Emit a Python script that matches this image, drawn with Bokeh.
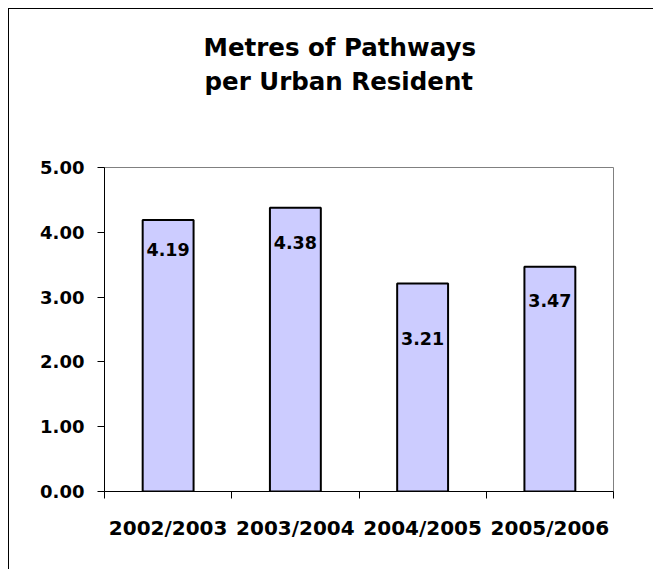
from bokeh.plotting import figure
from bokeh.models import Title, FixedTicker, Range1d, ColumnDataSource, NumeralTickFormatter
from bokeh.core.properties import value
from bokeh.embed import file_html
from bokeh.resources import INLINE

# ---- data ----
categories = ["2002/2003", "2003/2004", "2004/2005", "2005/2006"]
values = [4.19, 4.38, 3.21, 3.47]
value_labels = ["4.19", "4.38", "3.21", "3.47"]
y_ticks = [0, 1, 2, 3, 4, 5]
title_lines = ["Metres of Pathways", "per Urban Resident"]

# label placement below the bar tops (pixels), as in the reference
label_drop_px = [30, 35, 55, 34]

FONT = "DejaVu Sans"

xs = [i + 0.5 for i in range(len(categories))]
bounds = list(range(len(categories) + 1))

src = ColumnDataSource(dict(x=xs, top=values, label=value_labels, drop=label_drop_px))

p = figure(width=645, height=561, output_backend="svg", toolbar_location=None,
           title=None,
           x_range=Range1d(0, len(categories)), y_range=Range1d(0, max(y_ticks)),
           min_border_left=95, min_border_right=41, min_border_top=158, min_border_bottom=79)

# spacer between the plot area and the two-line title
p.add_layout(Title(text=" ", standoff=59, text_font=FONT, text_font_size="10px"), "above")
p.add_layout(Title(text=title_lines[1], align="left", offset=100, standoff=0,
                   text_font=FONT, text_font_size="24.5px", text_font_style="bold",
                   text_color="black"), "above")
p.add_layout(Title(text=title_lines[0], align="left", offset=99, standoff=5,
                   text_font=FONT, text_font_size="24.5px", text_font_style="bold",
                   text_color="black"), "above")

p.vbar(x="x", top="top", bottom=0, width=0.4, source=src,
       fill_color="#CCCCFF", line_color="black", line_width=2)

p.text(x="x", y="top", text="label", y_offset="drop", source=src,
       text_font=value(FONT), text_font_size=value("17.5px"), text_font_style="bold",
       text_align="center", text_baseline="middle", text_color="black")

# x axis: labels at centres, tick marks at category boundaries
p.xaxis.ticker = FixedTicker(ticks=xs, minor_ticks=bounds)
p.xaxis.major_label_overrides = {x: c for x, c in zip(xs, categories)}
p.xaxis.major_tick_out = 0
p.xaxis.major_tick_in = 0
p.xaxis.minor_tick_out = 7
p.xaxis.minor_tick_in = 0
p.xaxis.minor_tick_line_color = "black"
p.xaxis.axis_line_color = "black"
p.xaxis.major_label_standoff = 17
p.xaxis.major_label_text_font = FONT
p.xaxis.major_label_text_font_size = "20px"
p.xaxis.major_label_text_font_style = "bold"
p.xaxis.major_label_text_color = "black"

# y axis
p.yaxis.ticker = FixedTicker(ticks=y_ticks)
p.yaxis.formatter = NumeralTickFormatter(format="0.00")
p.yaxis.major_tick_out = 7
p.yaxis.major_tick_in = 0
p.yaxis.major_tick_line_color = "black"
p.yaxis.axis_line_color = "black"
p.yaxis.major_label_standoff = 13
p.yaxis.major_label_text_font = FONT
p.yaxis.major_label_text_font_size = "18px"
p.yaxis.major_label_text_font_style = "bold"
p.yaxis.major_label_text_color = "black"

p.xgrid.visible = False
p.ygrid.visible = False
p.outline_line_color = "#808080"
p.outline_line_width = 1
p.background_fill_color = "white"
p.border_fill_color = "white"
p.styles = {"margin-left": "8px", "margin-top": "8px",
            "border-left": "1px solid black", "border-top": "1px solid black"}

open("out.html", "w").write(file_html(p, INLINE))
